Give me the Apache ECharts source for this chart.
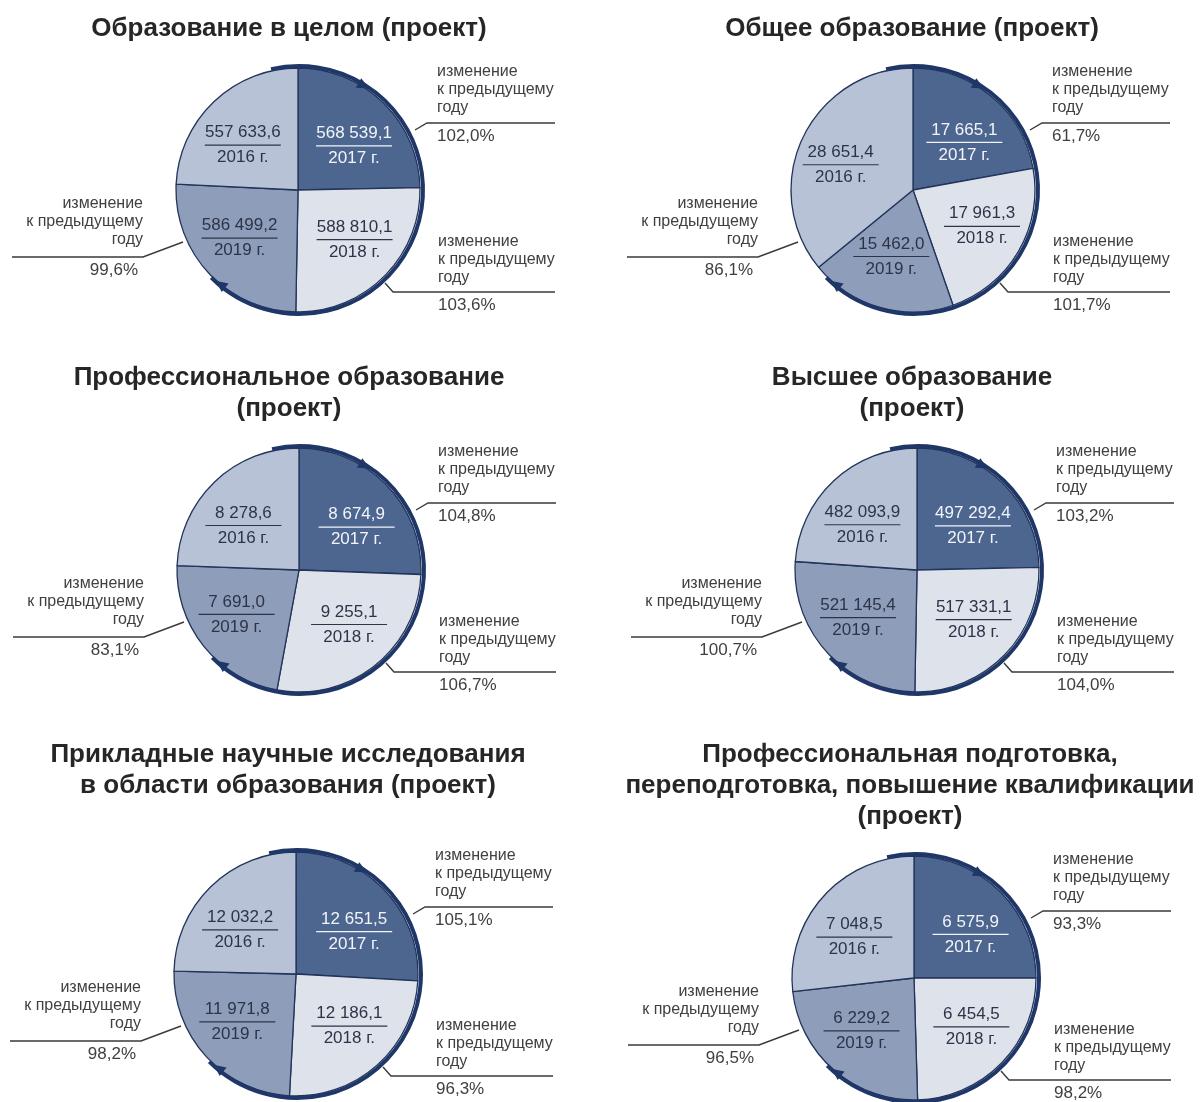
<!DOCTYPE html>
<html>
<head>
<meta charset="utf-8">
<script src="https://cdn.jsdelivr.net/npm/echarts@6/dist/echarts.min.js"></script>
<style>
  html, body { margin: 0; padding: 0; background: #fff; }
  #chart { width: 1200px; height: 1102px; }
</style>
</head>
<body>
<div id="chart"></div>
<script>
// годы (порядок в данных: 2016, 2017, 2018, 2019)
var years = ['2016 г.', '2017 г.', '2018 г.', '2019 г.'];

var titles = [
  'Образование в целом (проект)',
  'Общее образование (проект)',
  'Профессиональное образование\n(проект)',
  'Высшее образование\n(проект)',
  'Прикладные научные исследования\nв области образования (проект)',
  'Профессиональная подготовка,\nпереподготовка, повышение квалификации\n(проект)'
];

// значения по годам 2016-2019
var obrazovanie = [557633.6, 568539.1, 588810.1, 586499.2];
var obshchee = [28651.4, 17665.1, 17961.3, 15462.0];
var professionalnoe = [8278.6, 8674.9, 9255.1, 7691.0];
var vysshee = [482093.9, 497292.4, 517331.1, 521145.4];
var prikladnye = [12032.2, 12651.5, 12186.1, 11971.8];
var podgotovka = [7048.5, 6575.9, 6454.5, 6229.2];

// изменение к предыдущему году, % (2017, 2018, 2019)
var chObrazovanie = [102.0, 103.6, 99.6];
var chObshchee = [61.7, 101.7, 86.1];
var chProfessionalnoe = [104.8, 106.7, 83.1];
var chVysshee = [103.2, 104.0, 100.7];
var chPrikladnye = [105.1, 96.3, 98.2];
var chPodgotovka = [93.3, 98.2, 96.5];

var allValues = [obrazovanie, obshchee, professionalnoe, vysshee, prikladnye, podgotovka];
var allChanges = [chObrazovanie, chObshchee, chProfessionalnoe, chVysshee, chPrikladnye, chPodgotovka];

// раскладка: центры кругов и заголовков
var centers = [[298, 190], [913, 190], [299, 570], [917, 570], [296, 974], [914, 978]];
var titleX = [289, 912, 289, 912, 288, 910];
var titleTop = [13, 13, 362, 362, 739, 739];
var R = 122;

var colors = { '2016 г.': '#b8c2d6', '2017 г.': '#4d6690', '2018 г.': '#dee2eb', '2019 г.': '#8e9dba' };
var navy = '#1f3668';
var FONT = '"Liberation Sans", Arial, sans-serif';
var changeText = 'изменение\nк предыдущему\nгоду';

function fmt(v) {
  var s = v.toFixed(1).split('.');
  return s[0].replace(/\B(?=(\d{3})+(?!\d))/g, ' ') + ',' + s[1];
}
function fmtPct(v) {
  return v.toFixed(1).replace('.', ',') + '%';
}

var pieOrder = [1, 2, 3, 0]; // по часовой от 12 часов: 2017, 2018, 2019, 2016

var series = [];
var titleList = [];
var graphic = [];

function arrowHead(cx, cy, r, deg) {
  var t = deg * Math.PI / 180;
  var px = cx + r * Math.cos(t), py = cy + r * Math.sin(t);
  var tx = -Math.sin(t), ty = Math.cos(t);
  var nx = Math.cos(t), ny = Math.sin(t);
  return {
    type: 'polygon', z: 20,
    shape: { points: [
      [px + tx * 10, py + ty * 10],
      [px - tx * 2 + nx * 5, py - ty * 2 + ny * 5],
      [px - tx * 2 - nx * 6, py - ty * 2 - ny * 6]
    ] },
    style: { fill: navy }
  };
}

function line(points) {
  return { type: 'polyline', z: 20, shape: { points: points }, style: { stroke: '#3a3a3a', lineWidth: 1.4, fill: null } };
}
function txt(x, y, text, align, vAlign, size) {
  return {
    type: 'text', z: 20, x: x, y: y,
    style: { text: text, fill: '#404040', font: size + 'px ' + FONT, align: align, verticalAlign: vAlign, lineHeight: 18 }
  };
}

// середина сектора (экранный угол) по данным серии
function midAngle(si, di) {
  var vals = allValues[si];
  var total = 0, before = 0;
  pieOrder.forEach(function (k, j) {
    total += vals[k];
    if (j < di) before += vals[k];
  });
  var frac = (before + vals[pieOrder[di]] / 2) / total;
  return (-90 + frac * 360) * Math.PI / 180;
}

// подписи внутри сектора: по сплюснутому эллипсу
function insideLabel(params) {
  var c = centers[params.seriesIndex];
  var a = midAngle(params.seriesIndex, params.dataIndex);
  return {
    x: c[0] + 80 * Math.cos(a),
    y: c[1] + 3 + 66 * Math.sin(a),
    align: 'center',
    verticalAlign: 'middle',
    hideOverlap: false
  };
}

for (var i = 0; i < 6; i++) {
  var c = centers[i];
  var vals = allValues[i];
  var ch = allChanges[i];

  titleList.push({
    text: titles[i],
    left: titleX[i],
    top: titleTop[i],
    textAlign: 'center',
    padding: 0,
    textStyle: { fontSize: 26, fontWeight: 'bold', color: '#262626', fontFamily: FONT, lineHeight: 31 }
  });

  series.push({
    type: 'pie',
    center: c,
    radius: R,
    startAngle: 90,
    clockwise: true,
    silent: true,
    animation: false,
    avoidLabelOverlap: false,
    itemStyle: { borderColor: '#22345a', borderWidth: 1.3 },
    label: {
      show: true,
      position: 'inside',
      formatter: function (p) {
        return '{v|' + fmt(p.value) + '}\n{hr|}\n{v|' + p.name + '}';
      },
      rich: {
        v: { fontSize: 17, fontFamily: FONT, color: '#2c3448', lineHeight: 20, align: 'center' },
        hr: { borderColor: '#2c3448', borderWidth: 1.2, width: 76, height: 0, lineHeight: 5 }
      }
    },
    labelLayout: insideLabel,
    labelLine: { show: false },
    data: pieOrder.map(function (k) {
      var d = { name: years[k], value: vals[k], itemStyle: { color: colors[years[k]] } };
      if (k === 1) {
        d.label = { rich: {
          v: { fontSize: 17, fontFamily: FONT, color: '#f2f4f9', lineHeight: 20, align: 'center' },
          hr: { borderColor: '#f2f4f9', borderWidth: 1.2, width: 76, height: 0, lineHeight: 5 }
        } };
      }
      return d;
    })
  });

  var cx = c[0], cy = c[1];
  // круговая стрелка
  graphic.push({
    type: 'arc', z: 20,
    shape: { cx: cx + 1, cy: cy, r: R + 2, startAngle: -103 * Math.PI / 180, endAngle: 135 * Math.PI / 180, clockwise: true },
    style: { stroke: navy, lineWidth: 4, fill: null }
  });
  graphic.push(arrowHead(cx + 1, cy, R + 1, -60));
  graphic.push(arrowHead(cx + 1, cy, R + 1, 128));

  // 2017: справа сверху
  graphic.push(line([[cx + 117, cy - 60], [cx + 129, cy - 67], [cx + 257, cy - 67]]));
  graphic.push(txt(cx + 139, cy - 73, changeText, 'left', 'bottom', 16));
  graphic.push(txt(cx + 139, cy - 54, fmtPct(ch[0]), 'left', 'middle', 17));
  // 2018: справа снизу
  graphic.push(line([[cx + 87, cy + 93], [cx + 95, cy + 102], [cx + 257, cy + 102]]));
  graphic.push(txt(cx + 140, cy + 97, changeText, 'left', 'bottom', 16));
  graphic.push(txt(cx + 140, cy + 115, fmtPct(ch[1]), 'left', 'middle', 17));
  // 2019: слева
  graphic.push(line([[cx - 115, cy + 52], [cx - 155, cy + 67], [cx - 286, cy + 67]]));
  graphic.push(txt(cx - 155, cy + 59, changeText, 'right', 'bottom', 16));
  graphic.push(txt(cx - 160, cy + 80, fmtPct(ch[2]), 'right', 'middle', 17));
}

var myChart = echarts.init(document.getElementById('chart'));
myChart.setOption({
  backgroundColor: '#ffffff',
  animation: false,
  title: titleList,
  series: series,
  graphic: graphic
});
</script>
</body>
</html>
